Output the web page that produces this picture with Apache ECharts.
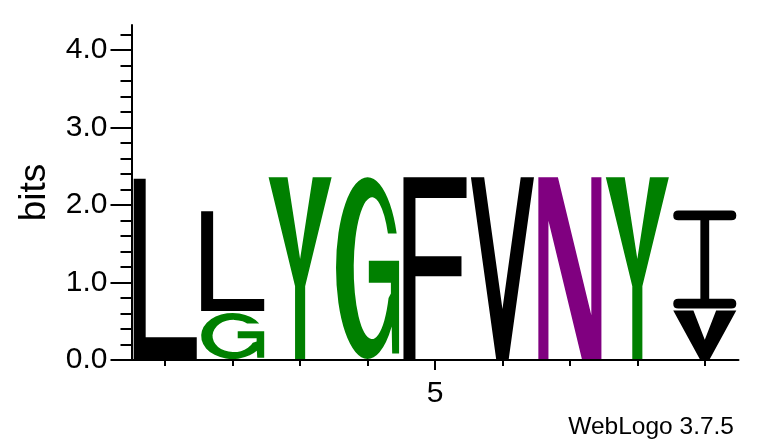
<!DOCTYPE html>
<html>
<head>
<meta charset="utf-8">
<script src="https://cdn.jsdelivr.net/npm/echarts@6/dist/echarts.min.js"></script>
<style>
  html, body { margin: 0; padding: 0; background: #fff; }
  #chart { width: 760px; height: 444px; }
</style>
</head>
<body>
<div id="chart"></div>
<script>
// sequence positions
const positions = [1, 2, 3, 4, 5, 6, 7, 8, 9];
// letters in each column, bottom to top
const stackLetters = [['L'], ['G', 'L'], ['Y'], ['G'], ['F'], ['V'], ['N'], ['Y'], ['V', 'I']];
// height of each letter in bits, bottom to top
const stackBits = [[2.35], [0.62, 1.31], [2.37], [2.37], [2.37], [2.37], [2.37], [2.37], [0.65, 1.29]];

// axis ticks
const yMajorTicks = [0, 1, 2, 3, 4];
const yMinorTicks = [0, 0.2, 0.4, 0.6, 0.8, 1, 1.2, 1.4, 1.6, 1.8, 2, 2.2, 2.4, 2.6, 2.8, 3, 3.2, 3.4, 3.6, 3.8, 4, 4.2];
const xTicks = [1, 2, 3, 4, 5, 6, 7, 8, 9];
const xLabels = [5];
const yMax = 4.32;

// weblogo colour scheme
const letterColors = {
  L: '#000000', F: '#000000', V: '#000000', I: '#000000',
  G: '#008000', Y: '#008000',
  N: '#800080'
};

// glyph outlines in a 100x100 box, stretched to fill each letter cell
const glyphPaths = {
  L: 'M0 0 L19 0 L19 88 L100 88 L100 100 L0 100 Z',
  F: 'M0 0 L100 0 L100 11.5 L19 11.5 L19 43.5 L92 43.5 L92 54.5 L19 54.5 L19 100 L0 100 Z',
  V: 'M0 0 L21 0 L50 72.5 L79 0 L100 0 L60 100 L40 100 Z',
  N: 'M0 0 L31 0 L84 76 L84 0 L100 0 L100 100 L69 100 L16 24 L16 100 L0 100 Z',
  Y: 'M0 0 L30 0 L50 45 L70 0 L100 0 L58 60 L58 100 L42 100 L42 60 Z',
  I: 'M8 0 L92 0 Q100 0 100 5 Q100 10 92 10 L57 10 L57 90 L92 90 Q100 90 100 95 Q100 100 92 100 ' +
     'L8 100 Q0 100 0 95 Q0 90 8 90 L43 90 L43 10 L8 10 Q0 10 0 5 Q0 0 8 0 Z',
  G: 'M96.2 31 A50 50 0 1 0 88.3 82.1 L89 97 L100 97 L100 46 L52 46 L52 58 L87 58 L87 64 ' +
     'L83.3 66.5 A29 39 0 1 1 82.3 31 Z'
};
// squat cells (wider than tall) keep heavier diagonals / lighter bowls
const glyphPathsWide = {
  V: 'M0 0 L32 0 L50 60 L68 0 L100 0 L58 100 L42 100 Z',
  G: 'M92.1 23 A50 50 0 1 0 88.3 82.1 L89 97 L100 97 L100 40 L58 40 L58 55 L88 55 L88 62 ' +
     'L81.9 64.8 A33.5 35 0 1 1 72.8 23 Z'
};

// one mark per letter, stacked within its column
const marks = [];
positions.forEach((p, i) => {
  let base = 0;
  stackLetters[i].forEach((ch, j) => {
    const h = stackBits[i][j];
    marks.push({ pos: p, letter: ch, from: base, to: base + h });
    base += h;
  });
});

const font = '"Liberation Sans", Arial, Helvetica, sans-serif';
const chart = echarts.init(document.getElementById('chart'));

chart.setOption({
  animation: false,
  backgroundColor: '#ffffff',
  grid: { left: 131.5, right: 21.5, top: 25, bottom: 84 },
  xAxis: [
    {
      type: 'value', min: 0.5, max: 9.5, position: 'bottom',
      splitLine: { show: false },
      axisLine: { lineStyle: { color: '#000', width: 2 } },
      axisTick: { customValues: xTicks, length: 6, lineStyle: { color: '#000', width: 2 } },
      axisLabel: { customValues: xLabels, fontSize: 30, color: '#000', fontFamily: font, margin: 19 }
    },
    {
      type: 'value', min: 0.5, max: 9.5, position: 'bottom', offset: 0,
      splitLine: { show: false },
      axisLine: { show: false },
      axisTick: { customValues: xLabels, length: 10, lineStyle: { color: '#000', width: 2 } },
      axisLabel: { show: false }
    }
  ],
  yAxis: [
    {
      type: 'value', min: 0, max: yMax, position: 'left',
      name: 'bits', nameLocation: 'middle', nameRotate: 90, nameGap: 78,
      nameTextStyle: { fontSize: 37, color: '#000', fontFamily: font },
      splitLine: { show: false },
      axisLine: { lineStyle: { color: '#000', width: 2 } },
      axisTick: { customValues: yMajorTicks, length: 21, lineStyle: { color: '#000', width: 2 } },
      axisLabel: {
        customValues: yMajorTicks, fontSize: 30, color: '#000', fontFamily: font, margin: 24,
        formatter: v => Number(v).toFixed(1)
      }
    },
    {
      type: 'value', min: 0, max: yMax, position: 'left', offset: 0,
      splitLine: { show: false },
      axisLine: { show: false },
      axisTick: { customValues: yMinorTicks, length: 11, lineStyle: { color: '#000', width: 2 } },
      axisLabel: { show: false }
    }
  ],
  graphic: [
    {
      type: 'text', right: 26, top: 415,
      style: { text: 'WebLogo 3.7.5', fontSize: 24.5, fill: '#000', font: '24.5px ' + font }
    }
  ],
  series: [
    {
      type: 'custom',
      xAxisIndex: 0,
      yAxisIndex: 0,
      data: marks.map(m => [m.pos, m.from, m.to]),
      encode: { x: 0, y: [1, 2] },
      renderItem(params, api) {
        const m = marks[params.dataIndex];
        const bl = api.coord([m.pos - 0.5, m.from]);
        const tr = api.coord([m.pos + 0.5, m.to]);
        const colW = tr[0] - bl[0];
        const w = colW * 0.935;
        const h = bl[1] - tr[1] - 2;
        const path = (h < w && glyphPathsWide[m.letter]) || glyphPaths[m.letter];
        return {
          type: 'path',
          shape: {
            pathData: path,
            x: bl[0] + (colW - w) / 2,
            y: tr[1] + 1,
            width: w,
            height: h,
            layout: 'cover'
          },
          style: { fill: letterColors[m.letter] }
        };
      }
    }
  ]
});
</script>
</body>
</html>
